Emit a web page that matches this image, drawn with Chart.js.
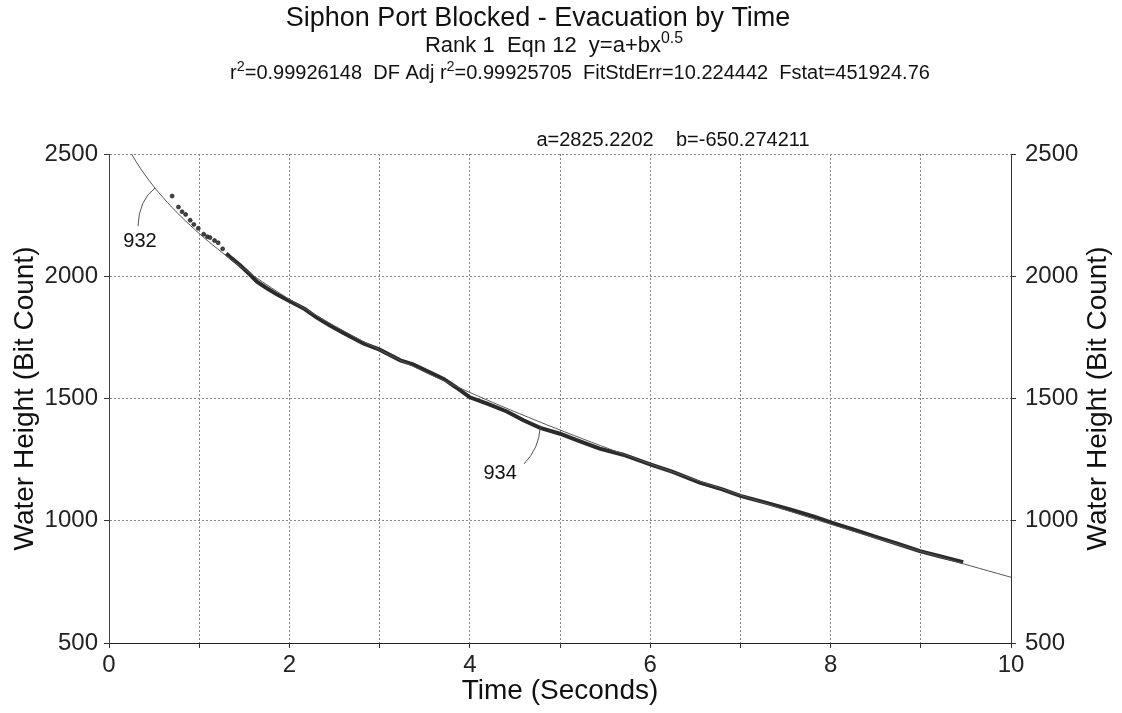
<!DOCTYPE html>
<html>
<head>
<meta charset="utf-8">
<title>Siphon Port Blocked - Evacuation by Time</title>
<script src="https://cdn.jsdelivr.net/npm/chart.js@4.4.1/dist/chart.umd.min.js"></script>
<style>
  body { margin: 0; background: #fff; }
  canvas { display: block; }
</style>
</head>
<body>
<canvas id="myChart" width="1122" height="713"></canvas>
<script>
// Fit coefficients for y = a + b*x^0.5
var fitA = 2825.2202;
var fitB = -650.274211;

// First readings, plotted as separate dots
var earlyTimes   = [0.70, 0.77, 0.81, 0.85, 0.90, 0.94, 0.99, 1.05, 1.09, 1.12, 1.17, 1.21, 1.26];
var earlyHeights = [2328, 2283, 2264, 2253, 2229, 2212, 2196, 2172, 2162, 2158, 2146, 2137, 2112];

// Remaining readings, dense enough to form a band
var mainTimes   = [1.30, 1.36, 1.45, 1.56, 1.64, 1.75, 1.86, 2.00, 2.17, 2.30, 2.45, 2.60, 2.82, 3.00,
                   3.23, 3.37, 3.55, 3.71, 3.85, 4.00, 4.20, 4.41, 4.60, 4.78, 5.00, 5.20, 5.44, 5.70,
                   6.00, 6.25, 6.55, 6.80, 7.00, 7.30, 7.55, 7.81, 8.01, 8.25, 8.51, 8.75, 8.99, 9.20, 9.47];
var mainHeights = [2093, 2073, 2046, 2008, 1978, 1951, 1926, 1899, 1866, 1832, 1799, 1768, 1725, 1700,
                   1656, 1640, 1608, 1580, 1545, 1505, 1478, 1447, 1410, 1380, 1356, 1328, 1295, 1270,
                   1231, 1200, 1156, 1128, 1102, 1072, 1046, 1018, 992, 965, 933, 905, 876, 856, 831];

var xTickLabels = [0, 2, 4, 6, 8, 10];
var yTickLabels = [500, 1000, 1500, 2000, 2500];

var FONT = "'Liberation Sans', Arial, sans-serif";

function toPoints(xs, ys) {
  return xs.map(function(x, i) { return { x: x, y: ys[i] }; });
}

// fitted curve, starting where it enters the plot at 2500
var fitPoints = [];
for (var t = 0.25; t <= 10.0001; t += 0.05) {
  fitPoints.push({ x: t, y: fitA + fitB * Math.sqrt(t) });
}

// draw a line of text with optional superscript pieces, centered on cx
function drawRuns(ctx, runs, cx, y, size) {
  var total = 0;
  runs.forEach(function(r) {
    ctx.font = (r[1] ? size * 0.72 : size) + 'px ' + FONT;
    total += ctx.measureText(r[0]).width;
  });
  var x = cx - total / 2;
  runs.forEach(function(r) {
    ctx.font = (r[1] ? size * 0.72 : size) + 'px ' + FONT;
    ctx.fillText(r[0], x, r[1] ? y - size * 0.42 : y);
    x += ctx.measureText(r[0]).width;
  });
}

var titleLines = [
  { size: 27, cx: 538, y: 26, runs: [['Siphon Port Blocked - Evacuation by Time']] },
  { size: 22, cx: 554, y: 52, runs: [['Rank 1  Eqn 12  y=a+bx'], ['0.5', 1]] },
  { size: 20, cx: 580, y: 79, runs: [['r'], ['2', 1], ['=0.99926148  DF Adj r'], ['2', 1],
                                     ['=0.99925705  FitStdErr=10.224442  Fstat=451924.76']] },
  { size: 20, cx: 673, y: 146, runs: [['a=2825.2202    b=-650.274211']] }
];

var chartText = {
  id: 'chartText',
  beforeDraw: function(chart) {
    var ctx = chart.ctx;
    ctx.save();
    ctx.fillStyle = '#fff';
    ctx.fillRect(0, 0, chart.width, chart.height);
    ctx.restore();
  },
  afterDraw: function(chart) {
    var ctx = chart.ctx;
    var xs = chart.scales.x, ys = chart.scales.y;
    ctx.save();
    ctx.fillStyle = '#111';
    ctx.textAlign = 'left';
    ctx.textBaseline = 'alphabetic';
    titleLines.forEach(function(l) { drawRuns(ctx, l.runs, l.cx, l.y, l.size); });

    // right axis title reads bottom to top like the left one
    ctx.save();
    ctx.translate(1098, (chart.chartArea.top + chart.chartArea.bottom) / 2);
    ctx.rotate(-Math.PI / 2);
    ctx.textAlign = 'center';
    ctx.textBaseline = 'middle';
    ctx.font = '28px ' + FONT;
    ctx.fillText('Water Height (Bit Count)', 0, 0);
    ctx.restore();

    // point labels with leaders
    ctx.strokeStyle = '#555';
    ctx.lineWidth = 1;
    ctx.font = '20px ' + FONT;
    ctx.textAlign = 'center';
    ctx.textBaseline = 'middle';

    var t0 = 0.51;
    var px = xs.getPixelForValue(t0), py = ys.getPixelForValue(fitA + fitB * Math.sqrt(t0));
    ctx.beginPath();
    ctx.moveTo(px, py);
    ctx.quadraticCurveTo(px - 16, py + 12, px - 17, py + 38);
    ctx.stroke();
    ctx.fillText('932', px - 15, py + 53);

    var qx = xs.getPixelForValue(mainTimes[23]), qy = ys.getPixelForValue(mainHeights[23]);
    ctx.beginPath();
    ctx.moveTo(qx, qy);
    ctx.quadraticCurveTo(qx - 1, qy + 20, qx - 16, qy + 36);
    ctx.stroke();
    ctx.fillText('934', qx - 40, qy + 46);
    ctx.restore();
  }
};

var gridStyle = { color: '#888', lineWidth: 1, tickLength: 5, tickColor: '#333' };

var ctx = document.getElementById('myChart').getContext('2d');
var chart = new Chart(ctx, {
  type: 'scatter',
  data: {
    datasets: [{
      label: 'fit',
      data: fitPoints,
      showLine: true,
      borderColor: '#555',
      borderWidth: 1,
      pointRadius: 0,
      tension: 0
    }, {
      label: '932',
      data: toPoints(earlyTimes, earlyHeights),
      showLine: false,
      pointRadius: 2,
      backgroundColor: '#444',
      borderColor: '#111',
      borderWidth: 0.6
    }, {
      label: '934',
      data: toPoints(mainTimes, mainHeights),
      showLine: true,
      borderColor: '#2b2b2b',
      borderWidth: 4,
      pointRadius: 0,
      tension: 0
    }]
  },
  options: {
    responsive: false,
    animation: false,
    devicePixelRatio: 1,
    layout: { padding: { top: 154 } },
    plugins: {
      legend: { display: false },
      tooltip: { enabled: false }
    },
    scales: {
      x: {
        type: 'linear',
        position: 'bottom',
        min: 0, max: 10,
        afterFit: function(s) { s.height = 70; },
        ticks: {
          stepSize: 1, autoSkip: false, maxRotation: 0, padding: 3,
          color: '#222', font: { family: FONT, size: 24 },
          callback: function(v) { return xTickLabels.indexOf(v) >= 0 ? String(v) : ''; }
        },
        grid: gridStyle,
        border: { display: true, color: '#222', width: 1, dash: [2, 2] },
        title: { display: true, text: 'Time (Seconds)', color: '#111',
                 font: { family: FONT, size: 28 }, padding: { top: 0, bottom: 5 } }
      },
      y: {
        type: 'linear',
        position: 'left',
        min: 500, max: 2500,
        afterFit: function(s) { s.width = 109; },
        ticks: {
          stepSize: 500, autoSkip: false, padding: 6,
          color: '#222', font: { family: FONT, size: 24 },
          callback: function(v) { return yTickLabels.indexOf(v) >= 0 ? String(v) : ''; }
        },
        grid: gridStyle,
        border: { display: true, color: '#444', width: 1, dash: [2, 2] },
        title: { display: true, text: 'Water Height (Bit Count)', color: '#111',
                 font: { family: FONT, size: 28 }, padding: { top: 8, bottom: 0 } }
      },
      y2: {
        type: 'linear',
        position: 'right',
        min: 500, max: 2500,
        afterFit: function(s) { s.width = 111; },
        ticks: {
          stepSize: 500, autoSkip: false, padding: 9,
          color: '#222', font: { family: FONT, size: 24 },
          callback: function(v) { return yTickLabels.indexOf(v) >= 0 ? String(v) : ''; }
        },
        grid: { drawOnChartArea: false, tickLength: 5, tickColor: '#333' },
        border: { display: true, color: '#333', width: 1 }
      }
    }
  },
  plugins: [chartText]
});
</script>
</body>
</html>
